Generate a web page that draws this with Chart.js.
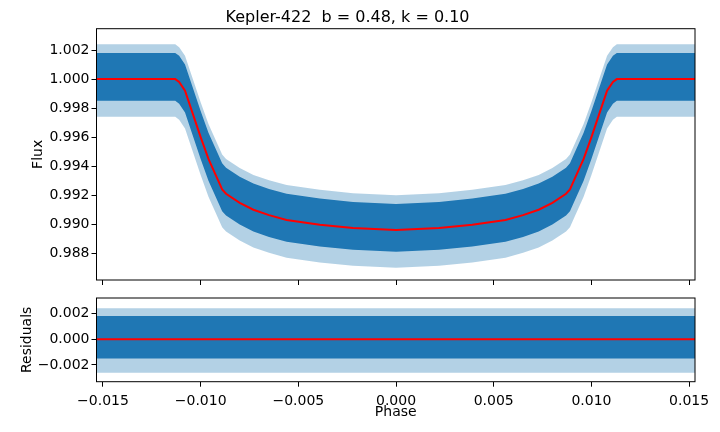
<!DOCTYPE html>
<html>
<head>
<meta charset="utf-8">
<script src="https://cdn.jsdelivr.net/npm/chart.js@4.4.1/dist/chart.umd.min.js"></script>
<style>
  html, body { margin: 0; padding: 0; background: #fff; }
  #wrap { position: relative; width: 720px; height: 432px; }
  canvas { position: absolute; left: 0; }
  #flux { top: 0; }
  #resid { top: 292px; }
</style>
</head>
<body>
<div id="wrap">
  <canvas id="flux" width="720" height="292"></canvas>
  <canvas id="resid" width="720" height="140"></canvas>
</div>
<script>
// phase grid shared by the model curve and the envelope of the data cloud
const phaseGrid = [-0.0154, -0.0113, -0.0111, -0.0108, -0.0104, -0.0100, -0.0096, -0.0091, -0.0089, -0.0087, -0.0080, -0.0073, -0.0065, -0.0056, -0.0039, -0.0022, 0.0000,
                   0.0022, 0.0039, 0.0056, 0.0065, 0.0073, 0.0080, 0.0087, 0.0089, 0.0091, 0.0096, 0.0100, 0.0104, 0.0108, 0.0111, 0.0113, 0.0154];

// transit model (red line)
const modelFlux = [1.0000, 1.0000, 0.9998, 0.9992, 0.9976, 0.9960, 0.9945, 0.9930, 0.9924, 0.99210, 0.99148, 0.99100, 0.99063, 0.99030, 0.98997, 0.98974, 0.98960,
                   0.98974, 0.98997, 0.99030, 0.99063, 0.99100, 0.99148, 0.99210, 0.9924, 0.9930, 0.9945, 0.9960, 0.9976, 0.9992, 0.9998, 1.0000, 1.0000];

// dense part of the observed points (upper / lower edge)
const coreUpper = [1.0018, 1.0018, 1.0016, 1.0010, 0.9994, 0.9978, 0.9963, 0.9948, 0.9942, 0.99390, 0.99328, 0.99280, 0.99243, 0.99210, 0.99177, 0.99154, 0.99140,
                   0.99154, 0.99177, 0.99210, 0.99243, 0.99280, 0.99328, 0.99390, 0.9942, 0.9948, 0.9963, 0.9978, 0.9994, 1.0010, 1.0016, 1.0018, 1.0018];
const coreLower = [0.9985, 0.9985, 0.9983, 0.9977, 0.9961, 0.9945, 0.9930, 0.9915, 0.9909, 0.99060, 0.98998, 0.98950, 0.98913, 0.98880, 0.98847, 0.98824, 0.98810,
                   0.98824, 0.98847, 0.98880, 0.98913, 0.98950, 0.98998, 0.99060, 0.9909, 0.9915, 0.9930, 0.9945, 0.9961, 0.9977, 0.9983, 0.9985, 0.9985];

// sparse outer points
const haloUpper = [1.0024, 1.0024, 1.0022, 1.0016, 1.0000, 0.9984, 0.9969, 0.9954, 0.9948, 0.99450, 0.99388, 0.99340, 0.99303, 0.99270, 0.99237, 0.99214, 0.99200,
                   0.99214, 0.99237, 0.99270, 0.99303, 0.99340, 0.99388, 0.99450, 0.9948, 0.9954, 0.9969, 0.9984, 1.0000, 1.0016, 1.0022, 1.0024, 1.0024];
const haloLower = [0.9974, 0.9974, 0.9972, 0.9966, 0.9950, 0.9934, 0.9919, 0.9904, 0.9898, 0.98950, 0.98888, 0.98840, 0.98803, 0.98770, 0.98737, 0.98714, 0.98700,
                   0.98714, 0.98737, 0.98770, 0.98803, 0.98840, 0.98888, 0.98950, 0.9898, 0.9904, 0.9919, 0.9934, 0.9950, 0.9966, 0.9972, 0.9974, 0.9974];

// residual panel
const resPhase = [-0.0154, 0.0154];
const resModel = [0, 0];
const resCoreUpper = [0.0018, 0.0018];
const resCoreLower = [-0.0015, -0.0015];
const resHaloUpper = [0.0024, 0.0024];
const resHaloLower = [-0.0026, -0.0026];

// ticks
const phaseTicks = [-0.015, -0.010, -0.005, 0.000, 0.005, 0.010, 0.015];
const fluxTicks = [0.988, 0.990, 0.992, 0.994, 0.996, 0.998, 1.000, 1.002];
const resTicks = [-0.002, 0.000, 0.002];

const azul = '#1f77b4';
const azulClaro = 'rgba(31,119,180,0.34)';

Chart.defaults.font.family = "'DejaVu Sans', sans-serif";
Chart.defaults.font.size = 14;
Chart.defaults.color = '#000';

const xy = (xs, ys) => xs.map((x, i) => ({ x: x, y: ys[i] }));
const fmt = (v) => v.toFixed(3).replace('-', '\u2212');

// frame around the plot area, like matplotlib spines
const moldura = {
    id: 'moldura',
    afterDraw(chart) {
        const { ctx, chartArea: a } = chart;
        ctx.save();
        ctx.strokeStyle = '#000';
        ctx.lineWidth = 1;
        ctx.strokeRect(a.left, a.top, a.right - a.left, a.bottom - a.top);
        ctx.restore();
    }
};

function band(data, fill, color, order) {
    return { data, fill, backgroundColor: color, borderColor: 'transparent', borderWidth: 0, pointRadius: 0, order };
}

function eixoX(showLabels, height) {
    return {
        type: 'linear', min: -0.01533, max: 0.01530,
        afterBuildTicks: (axis) => { axis.ticks = phaseTicks.map(v => ({ value: v })); },
        afterFit: (scale) => { scale.height = height; scale.paddingLeft = 0; scale.paddingRight = 0; },
        ticks: { display: showLabels, autoSkip: false, maxRotation: 0, minRotation: 0, padding: 6, callback: (v) => fmt(v) },
        grid: { drawOnChartArea: false, drawTicks: true, tickLength: 5, color: '#000', lineWidth: 1 },
        border: { display: false },
        title: showLabels ? { display: true, text: 'Phase', padding: { top: 0, bottom: 11 } } : { display: false }
    };
}

function eixoY(min, max, ticks, label, titlePad) {
    return {
        type: 'linear', min, max,
        afterBuildTicks: (axis) => { axis.ticks = ticks.map(v => ({ value: v })); },
        afterFit: (scale) => { scale.width = 96.5; scale.paddingTop = 0; scale.paddingBottom = 0; },
        ticks: { padding: 2, callback: (v) => fmt(v) },
        grid: { drawOnChartArea: false, drawTicks: true, tickLength: 5, color: '#000', lineWidth: 1 },
        border: { display: false },
        title: { display: true, text: label, padding: { top: titlePad, bottom: 0 } }
    };
}

new Chart('flux', {
    type: 'line',
    data: {
        datasets: [
            { data: xy(phaseGrid, modelFlux), borderColor: 'red', borderWidth: 2, pointRadius: 0, fill: false, order: 0 },
            band(xy(phaseGrid, coreUpper), '+1', azul, 1),
            band(xy(phaseGrid, coreLower), false, azul, 1),
            band(xy(phaseGrid, haloUpper), '+1', azulClaro, 2),
            band(xy(phaseGrid, haloLower), false, azulClaro, 2)
        ]
    },
    options: {
        responsive: false, animation: false, devicePixelRatio: 1,
        layout: { padding: { left: 0, right: 25, top: 0, bottom: 0 } },
        plugins: {
            legend: { display: false }, tooltip: { enabled: false },
            title: { display: true, text: 'Kepler-422  b = 0.48, k = 0.10', font: { size: 16, weight: 'normal' }, color: '#000', padding: { top: 8, bottom: 1.5 } }
        },
        scales: {
            x: eixoX(false, 12),
            y: eixoY(0.98616, 1.00347, fluxTicks, 'Flux', 29.6)
        }
    },
    plugins: [moldura]
});

new Chart('resid', {
    type: 'line',
    data: {
        datasets: [
            { data: xy(resPhase, resModel), borderColor: 'red', borderWidth: 2, pointRadius: 0, fill: false, order: 0 },
            band(xy(resPhase, resCoreUpper), '+1', azul, 1),
            band(xy(resPhase, resCoreLower), false, azul, 1),
            band(xy(resPhase, resHaloUpper), '+1', azulClaro, 2),
            band(xy(resPhase, resHaloLower), false, azulClaro, 2)
        ]
    },
    options: {
        responsive: false, animation: false, devicePixelRatio: 1,
        layout: { padding: { left: 0, right: 25, top: 6, bottom: 0 } },
        plugins: { legend: { display: false }, tooltip: { enabled: false } },
        scales: {
            x: eixoX(true, 50.3),
            y: eixoY(-0.0033, 0.0032, resTicks, 'Residuals', 19.1)
        }
    },
    plugins: [moldura]
});
</script>
</body>
</html>
